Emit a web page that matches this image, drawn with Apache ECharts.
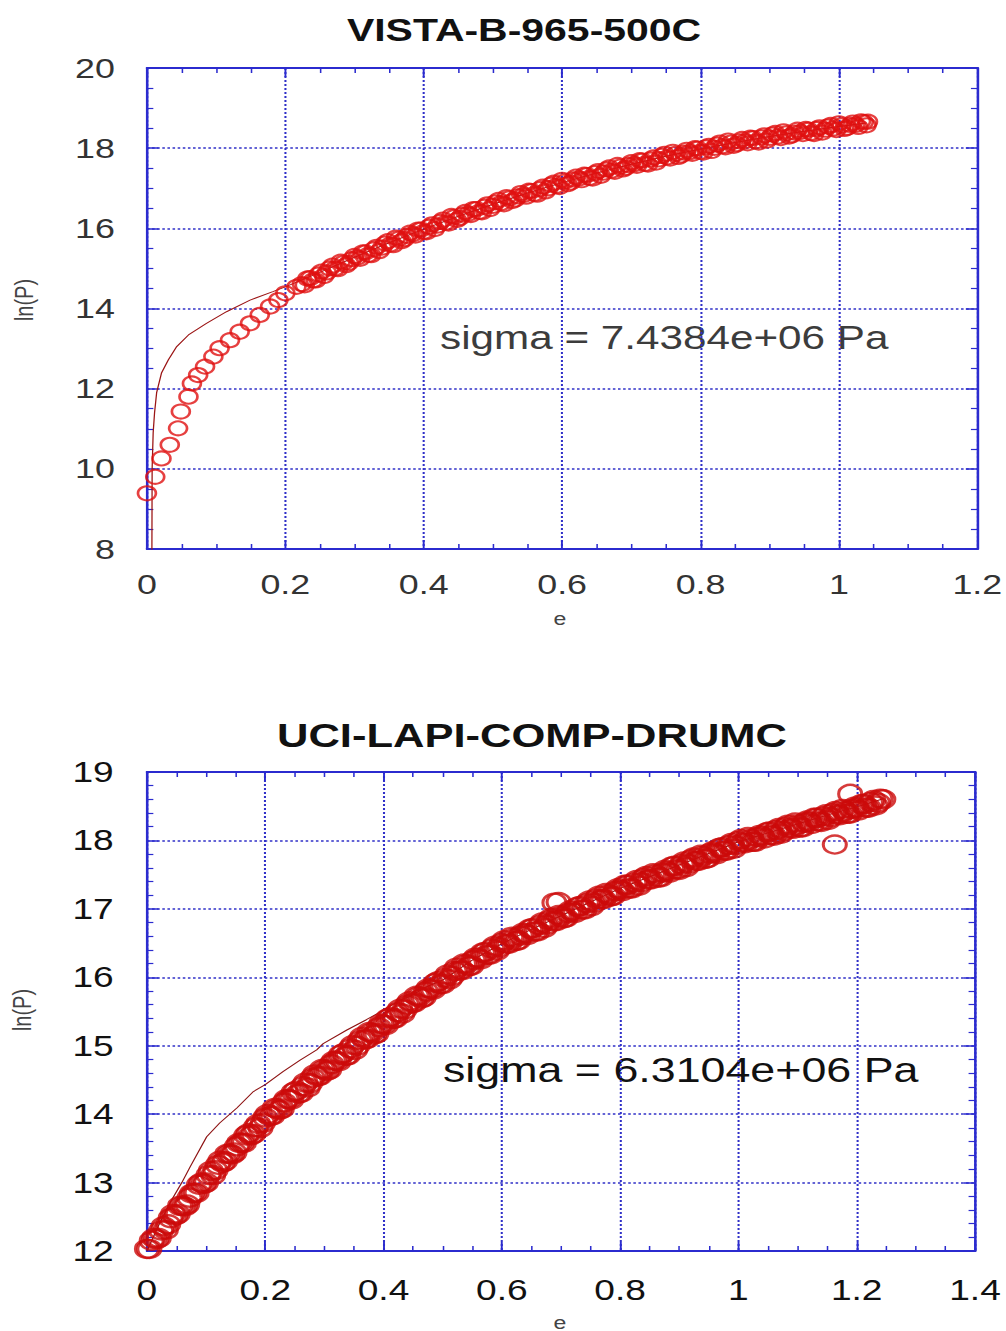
<!DOCTYPE html>
<html>
<head>
<meta charset="utf-8">
<script src="https://cdn.jsdelivr.net/npm/echarts@6/dist/echarts.min.js"></script>
<style>
  html, body { margin: 0; padding: 0; background: #fff; overflow: hidden; }
  /* the plot is laid out narrow and widened by a horizontal stretch */
  #chart { width: 786px; height: 1331px; transform: scaleX(1.28); transform-origin: 0 0; }
</style>
</head>
<body>
<div id="chart"></div>
<script>
// ---------- VISTA-B-965-500C : measured points (strain e, ln P) ----------
const vistaStrain = [
  0.000, 0.012, 0.021, 0.033, 0.045, 0.049, 0.060, 0.065, 0.074, 0.084,
  0.096, 0.105, 0.120, 0.134, 0.149, 0.163, 0.178, 0.190, 0.200, 0.216,
  0.224, 0.232, 0.240, 0.248, 0.256, 0.264, 0.272, 0.280, 0.288, 0.296,
  0.304, 0.312, 0.320, 0.328, 0.336, 0.344, 0.352, 0.360, 0.368, 0.376,
  0.384, 0.392, 0.400, 0.408, 0.416, 0.424, 0.432, 0.440, 0.448, 0.456,
  0.464, 0.472, 0.480, 0.488, 0.496, 0.504, 0.512, 0.520, 0.528, 0.536,
  0.544, 0.552, 0.560, 0.568, 0.576, 0.584, 0.592, 0.600, 0.608, 0.616,
  0.624, 0.632, 0.640, 0.648, 0.656, 0.664, 0.672, 0.680, 0.688, 0.696,
  0.704, 0.712, 0.720, 0.728, 0.736, 0.744, 0.752, 0.760, 0.768, 0.776,
  0.784, 0.792, 0.800, 0.808, 0.816, 0.824, 0.832, 0.840, 0.848, 0.856,
  0.864, 0.872, 0.880, 0.888, 0.896, 0.904, 0.912, 0.920, 0.928, 0.936,
  0.944, 0.952, 0.960, 0.968, 0.976, 0.984, 0.992, 1.000, 1.008, 1.016,
  1.024, 1.032, 1.040, 1.042
];
const vistaLnP = [
  9.39, 9.80, 10.26, 10.60, 11.01, 11.43, 11.80, 12.13, 12.34, 12.55,
  12.80, 13.01, 13.21, 13.42, 13.63, 13.84, 14.05, 14.21, 14.38, 14.54,
  14.61, 14.75, 14.70, 14.85, 14.81, 15.00, 15.00, 15.17, 15.08, 15.23,
  15.27, 15.40, 15.34, 15.48, 15.43, 15.62, 15.60, 15.77, 15.68, 15.81,
  15.85, 15.97, 15.91, 16.04, 15.98, 16.16, 16.14, 16.31, 16.21, 16.34,
  16.36, 16.48, 16.41, 16.54, 16.48, 16.65, 16.63, 16.78, 16.68, 16.80,
  16.83, 16.94, 16.86, 16.98, 16.92, 17.09, 17.06, 17.21, 17.10, 17.22,
  17.24, 17.34, 17.26, 17.38, 17.31, 17.47, 17.44, 17.58, 17.47, 17.58,
  17.60, 17.70, 17.61, 17.72, 17.64, 17.81, 17.77, 17.91, 17.78, 17.89,
  17.90, 18.00, 17.91, 18.02, 17.93, 18.09, 18.05, 18.19, 18.06, 18.17,
  18.17, 18.26, 18.17, 18.27, 18.19, 18.34, 18.29, 18.42, 18.29, 18.39,
  18.40, 18.48, 18.38, 18.48, 18.39, 18.54, 18.49, 18.62, 18.48, 18.58,
  18.58, 18.67, 18.57, 18.66
];
// second set of readings taken between the ones above
const vistaStrainB = [
  0.228, 0.236, 0.244, 0.252, 0.260, 0.268, 0.276, 0.284, 0.292, 0.300,
  0.308, 0.316, 0.324, 0.332, 0.340, 0.348, 0.356, 0.364, 0.372, 0.380,
  0.388, 0.396, 0.404, 0.412, 0.420, 0.428, 0.436, 0.444, 0.452, 0.460,
  0.468, 0.476, 0.484, 0.492, 0.500, 0.508, 0.516, 0.524, 0.532, 0.540,
  0.548, 0.556, 0.564, 0.572, 0.580, 0.588, 0.596, 0.604, 0.612, 0.620,
  0.628, 0.636, 0.644, 0.652, 0.660, 0.668, 0.676, 0.684, 0.692, 0.700,
  0.708, 0.716, 0.724, 0.732, 0.740, 0.748, 0.756, 0.764, 0.772, 0.780,
  0.788, 0.796, 0.804, 0.812, 0.820, 0.828, 0.836, 0.844, 0.852, 0.860,
  0.868, 0.876, 0.884, 0.892, 0.900, 0.908, 0.916, 0.924, 0.932, 0.940,
  0.948, 0.956, 0.964, 0.972, 0.980, 0.988, 0.996, 1.004, 1.012, 1.020,
  1.028, 1.036
];
const vistaLnPB = [
  14.58, 14.76, 14.70, 14.92, 14.90, 15.07, 14.98, 15.14, 15.14, 15.31,
  15.24, 15.40, 15.33, 15.54, 15.52, 15.68, 15.58, 15.74, 15.73, 15.89,
  15.82, 15.97, 15.90, 16.10, 16.07, 16.22, 16.12, 16.28, 16.26, 16.41,
  16.33, 16.48, 16.40, 16.60, 16.56, 16.71, 16.60, 16.75, 16.72, 16.88,
  16.79, 16.93, 16.84, 17.04, 17.00, 17.14, 17.03, 17.17, 17.14, 17.29,
  17.20, 17.33, 17.24, 17.43, 17.39, 17.52, 17.41, 17.54, 17.51, 17.65,
  17.56, 17.69, 17.59, 17.77, 17.72, 17.86, 17.74, 17.86, 17.82, 17.96,
  17.86, 17.99, 17.89, 18.06, 18.01, 18.14, 18.02, 18.14, 18.10, 18.23,
  18.12, 18.25, 18.14, 18.32, 18.26, 18.38, 18.25, 18.37, 18.32, 18.46,
  18.35, 18.46, 18.35, 18.52, 18.46, 18.58, 18.45, 18.57, 18.51, 18.64,
  18.53, 18.65
];
// fitted curve
const vistaFitStrain = [
  0.007, 0.0075, 0.009, 0.011, 0.014, 0.021, 0.031, 0.043, 0.060, 0.086,
  0.115, 0.149, 0.182, 0.200, 0.25, 0.30, 0.35, 0.40, 0.45, 0.50,
  0.55, 0.60, 0.65, 0.70, 0.75, 0.80, 0.85, 0.90, 0.95, 1.00, 1.04
];
const vistaFitLnP = [
  7.00, 10.00, 10.90, 11.40, 11.90, 12.39, 12.72, 13.05, 13.34, 13.63,
  13.92, 14.21, 14.42, 14.54, 14.90, 15.28, 15.64, 15.98, 16.30, 16.60,
  16.88, 17.14, 17.38, 17.60, 17.80, 17.98, 18.14, 18.29, 18.42, 18.54, 18.63
];
const vistaStrainTicks = [0, 0.2, 0.4, 0.6, 0.8, 1, 1.2];
const vistaLnPTicks = [8, 10, 12, 14, 16, 18, 20];
const vistaTitle = 'VISTA-B-965-500C';
const vistaSigma = 'sigma = 7.4384e+06 Pa';

// ---------- UCI-LAPI-COMP-DRUMC : measured points ----------
const drumStrain = [
  0.000, 0.008, 0.016, 0.024, 0.032, 0.040, 0.048, 0.056, 0.064, 0.072,
  0.080, 0.088, 0.096, 0.104, 0.112, 0.120, 0.128, 0.136, 0.144, 0.152,
  0.160, 0.168, 0.176, 0.184, 0.192, 0.200, 0.208, 0.216, 0.224, 0.232,
  0.240, 0.248, 0.256, 0.264, 0.272, 0.280, 0.288, 0.296, 0.304, 0.312,
  0.320, 0.328, 0.336, 0.344, 0.352, 0.360, 0.368, 0.376, 0.384, 0.392,
  0.400, 0.408, 0.416, 0.424, 0.432, 0.440, 0.448, 0.456, 0.464, 0.472,
  0.480, 0.488, 0.496, 0.504, 0.512, 0.520, 0.528, 0.536, 0.544, 0.552,
  0.560, 0.568, 0.576, 0.584, 0.592, 0.600, 0.608, 0.616, 0.624, 0.632,
  0.640, 0.648, 0.656, 0.664, 0.672, 0.680, 0.688, 0.696, 0.704, 0.712,
  0.720, 0.728, 0.736, 0.744, 0.752, 0.760, 0.768, 0.776, 0.784, 0.792,
  0.800, 0.808, 0.816, 0.824, 0.832, 0.840, 0.848, 0.856, 0.864, 0.872,
  0.880, 0.888, 0.896, 0.904, 0.912, 0.920, 0.928, 0.936, 0.944, 0.952,
  0.960, 0.968, 0.976, 0.984, 0.992, 1.000, 1.008, 1.016, 1.024, 1.032,
  1.040, 1.048, 1.056, 1.064, 1.072, 1.080, 1.088, 1.096, 1.104, 1.112,
  1.120, 1.128, 1.136, 1.144, 1.152, 1.160, 1.168, 1.176, 1.184, 1.192,
  1.200, 1.208, 1.216, 1.224, 1.232, 1.240, 1.245,
  0.689, 0.696, 1.163, 1.189
];
const drumLnP = [
  12.03, 12.15, 12.17, 12.30, 12.31, 12.48, 12.52, 12.66, 12.65, 12.78,
  12.85, 12.97, 12.98, 13.11, 13.11, 13.26, 13.29, 13.42, 13.41, 13.53,
  13.58, 13.69, 13.69, 13.81, 13.80, 13.95, 13.97, 14.09, 14.06, 14.17,
  14.22, 14.32, 14.30, 14.41, 14.39, 14.53, 14.55, 14.66, 14.63, 14.73,
  14.78, 14.87, 14.85, 14.96, 14.94, 15.08, 15.09, 15.20, 15.16, 15.27,
  15.31, 15.40, 15.39, 15.49, 15.47, 15.60, 15.62, 15.73, 15.69, 15.79,
  15.83, 15.92, 15.90, 15.99, 15.97, 16.09, 16.10, 16.20, 16.16, 16.25,
  16.28, 16.36, 16.33, 16.42, 16.39, 16.50, 16.49, 16.59, 16.53, 16.61,
  16.64, 16.71, 16.67, 16.76, 16.72, 16.83, 16.82, 16.91, 16.86, 16.94,
  16.96, 17.03, 16.99, 17.08, 17.04, 17.15, 17.14, 17.23, 17.18, 17.26,
  17.28, 17.35, 17.30, 17.38, 17.34, 17.45, 17.43, 17.52, 17.46, 17.53,
  17.55, 17.62, 17.58, 17.65, 17.61, 17.72, 17.70, 17.79, 17.73, 17.81,
  17.82, 17.89, 17.85, 17.93, 17.88, 17.99, 17.97, 18.05, 17.98, 18.05,
  18.06, 18.12, 18.08, 18.15, 18.10, 18.20, 18.18, 18.26, 18.19, 18.26,
  18.27, 18.33, 18.28, 18.35, 18.30, 18.40, 18.38, 18.46, 18.39, 18.46,
  18.47, 18.53, 18.48, 18.56, 18.51, 18.61, 18.60,
  17.09, 17.10, 17.94, 18.68
];
// second set of readings taken between the ones above
const drumStrainB = [
  0.004, 0.012, 0.020, 0.028, 0.036, 0.044, 0.052, 0.060, 0.068, 0.076,
  0.084, 0.092, 0.100, 0.108, 0.116, 0.124, 0.132, 0.140, 0.148, 0.156,
  0.164, 0.172, 0.180, 0.188, 0.196, 0.204, 0.212, 0.220, 0.228, 0.236,
  0.244, 0.252, 0.260, 0.268, 0.276, 0.284, 0.292, 0.300, 0.308, 0.316,
  0.324, 0.332, 0.340, 0.348, 0.356, 0.364, 0.372, 0.380, 0.388, 0.396,
  0.404, 0.412, 0.420, 0.428, 0.436, 0.444, 0.452, 0.460, 0.468, 0.476,
  0.484, 0.492, 0.500, 0.508, 0.516, 0.524, 0.532, 0.540, 0.548, 0.556,
  0.564, 0.572, 0.580, 0.588, 0.596, 0.604, 0.612, 0.620, 0.628, 0.636,
  0.644, 0.652, 0.660, 0.668, 0.676, 0.684, 0.692, 0.700, 0.708, 0.716,
  0.724, 0.732, 0.740, 0.748, 0.756, 0.764, 0.772, 0.780, 0.788, 0.796,
  0.804, 0.812, 0.820, 0.828, 0.836, 0.844, 0.852, 0.860, 0.868, 0.876,
  0.884, 0.892, 0.900, 0.908, 0.916, 0.924, 0.932, 0.940, 0.948, 0.956,
  0.964, 0.972, 0.980, 0.988, 0.996, 1.004, 1.012, 1.020, 1.028, 1.036,
  1.044, 1.052, 1.060, 1.068, 1.076, 1.084, 1.092, 1.100, 1.108, 1.116,
  1.124, 1.132, 1.140, 1.148, 1.156, 1.164, 1.172, 1.180, 1.188, 1.196,
  1.204, 1.212, 1.220, 1.228, 1.236
];
const drumLnPB = [
  12.03, 12.19, 12.19, 12.36, 12.39, 12.54, 12.54, 12.66, 12.68, 12.84,
  12.85, 13.00, 13.00, 13.17, 13.18, 13.32, 13.31, 13.42, 13.44, 13.58,
  13.58, 13.72, 13.71, 13.86, 13.87, 14.00, 13.98, 14.08, 14.08, 14.22,
  14.21, 14.34, 14.31, 14.46, 14.45, 14.58, 14.56, 14.65, 14.65, 14.78,
  14.77, 14.89, 14.86, 15.01, 15.00, 15.13, 15.10, 15.19, 15.18, 15.32,
  15.30, 15.42, 15.40, 15.54, 15.53, 15.65, 15.63, 15.72, 15.71, 15.84,
  15.82, 15.94, 15.90, 16.04, 16.02, 16.14, 16.10, 16.19, 16.17, 16.29,
  16.26, 16.37, 16.33, 16.46, 16.44, 16.54, 16.49, 16.57, 16.54, 16.65,
  16.62, 16.72, 16.67, 16.80, 16.77, 16.87, 16.82, 16.89, 16.87, 16.98,
  16.94, 17.04, 16.99, 17.12, 17.09, 17.19, 17.14, 17.21, 17.19, 17.30,
  17.26, 17.35, 17.30, 17.42, 17.39, 17.48, 17.43, 17.50, 17.46, 17.57,
  17.53, 17.63, 17.57, 17.69, 17.66, 17.75, 17.70, 17.77, 17.74, 17.84,
  17.80, 17.90, 17.85, 17.96, 17.93, 18.02, 17.96, 18.02, 17.98, 18.08,
  18.03, 18.13, 18.07, 18.18, 18.14, 18.23, 18.17, 18.23, 18.19, 18.29,
  18.24, 18.33, 18.27, 18.38, 18.34, 18.43, 18.37, 18.43, 18.39, 18.49,
  18.44, 18.53, 18.48, 18.59, 18.55
];
// fitted curve
const drumFitStrain = [
  0.000, 0.020, 0.040, 0.059, 0.073, 0.101, 0.123, 0.152, 0.180, 0.200,
  0.230, 0.259, 0.287, 0.298, 0.338, 0.371, 0.400, 0.428, 0.445, 0.470,
  0.500, 0.55, 0.60, 0.65, 0.70, 0.75, 0.80, 0.85, 0.90, 0.95,
  1.00, 1.05, 1.10, 1.15, 1.20, 1.245
];
const drumFitLnP = [
  12.00, 12.38, 12.72, 13.00, 13.23, 13.67, 13.87, 14.09, 14.33, 14.43,
  14.62, 14.79, 14.94, 15.03, 15.23, 15.38, 15.52, 15.67, 15.72, 15.85,
  15.96, 16.25, 16.49, 16.70, 16.90, 17.10, 17.30, 17.47, 17.64, 17.81,
  17.98, 18.11, 18.24, 18.37, 18.49, 18.61
];
const drumStrainTicks = [0, 0.2, 0.4, 0.6, 0.8, 1, 1.2, 1.4];
const drumLnPTicks = [12, 13, 14, 15, 16, 17, 18, 19];
const drumTitle = 'UCI-LAPI-COMP-DRUMC';
const drumSigma = 'sigma = 6.3104e+06 Pa';

const axisTitleX = 'e';
const axisTitleY = 'ln(P)';

// ---------- styling ----------
const AXIS_BLUE = '#2b2bcf';
const GRID_BLUE = '#3030c8';
const FONT = '"Liberation Sans", Arial, Helvetica, sans-serif';
const zip = (xs, ys) => xs.map((x, i) => [x, ys[i]]);

function axisPair(dim, gridIndex, ticks, minorSplit, label) {
  const base = {
    type: 'value',
    gridIndex,
    min: ticks[0],
    max: ticks[ticks.length - 1],
    interval: ticks[1] - ticks[0],
    axisLine: { show: true, onZero: false, lineStyle: { color: AXIS_BLUE, width: 2 } },
    axisTick: { show: true, inside: true, length: 9, lineStyle: { color: AXIS_BLUE, width: 1.5 } },
    minorTick: { show: true, splitNumber: minorSplit, length: 5, lineStyle: { color: AXIS_BLUE, width: 1.2 } },
    minorSplitLine: { show: false }
  };
  const main = Object.assign({}, base, {
    position: dim === 'x' ? 'bottom' : 'left',
    axisLabel: label,
    splitLine: { show: true, lineStyle: { color: GRID_BLUE, width: 1.6, type: [2, 2] } }
  });
  const mirror = Object.assign({}, base, {
    position: dim === 'x' ? 'top' : 'right',
    axisLabel: { show: false },
    splitLine: { show: false }
  });
  return [main, mirror];
}

const topLabelX = { margin: 21, fontSize: 28, color: '#333', fontFamily: FONT };
const topLabelY = { margin: 25, fontSize: 28, color: '#333', fontFamily: FONT, padding: [0, 0, 6, 0] };
const botLabelX = { margin: 24, fontSize: 29, color: '#111', fontFamily: FONT };
const botLabelY = { margin: 26, fontSize: 29, color: '#111', fontFamily: FONT, padding: [0, 0, 8, 0] };

const ringStyle = (color, w) => ({ color: 'rgba(255,255,255,0)', borderColor: color, borderWidth: w });

const option = {
  animation: false,
  backgroundColor: '#ffffff',
  grid: [
    { left: 114.8, right: 21.9, top: 68, height: 481 },
    { left: 114.8, right: 24.3, top: 772, height: 479 }
  ],
  xAxis: [
    ...axisPair('x', 0, vistaStrainTicks, 4, topLabelX),
    ...axisPair('x', 1, drumStrainTicks, 4, botLabelX)
  ],
  yAxis: [
    ...axisPair('y', 0, vistaLnPTicks, 4, topLabelY),
    ...axisPair('y', 1, drumLnPTicks, 5, botLabelY)
  ],
  series: [
    {
      type: 'line', xAxisIndex: 0, yAxisIndex: 0, data: zip(vistaFitStrain, vistaFitLnP),
      showSymbol: false, clip: true, z: 2,
      lineStyle: { color: '#9b1515', width: 1 }
    },
    {
      type: 'scatter', xAxisIndex: 0, yAxisIndex: 0,
      data: zip(vistaStrain, vistaLnP).concat(zip(vistaStrainB, vistaLnPB)),
      symbol: 'circle', symbolSize: 14, clip: false, z: 3,
      itemStyle: ringStyle('#e01010', 2.1)
    },
    {
      type: 'line', xAxisIndex: 2, yAxisIndex: 2, data: zip(drumFitStrain, drumFitLnP),
      showSymbol: false, clip: true, z: 2,
      lineStyle: { color: '#8e1414', width: 1 }
    },
    {
      type: 'scatter', xAxisIndex: 2, yAxisIndex: 2,
      data: zip(drumStrain, drumLnP).concat(zip(drumStrainB, drumLnPB)),
      symbol: 'circle', symbolSize: 18, clip: false, z: 3,
      itemStyle: ringStyle('#cc0a0a', 2.4)
    }
  ],
  graphic: [
    { type: 'text', x: 409.4, y: 30, style: { text: vistaTitle, font: 'bold 32px ' + FONT, fill: '#111', align: 'center', verticalAlign: 'middle', textAlign: 'center', textVerticalAlign: 'middle' } },
    { type: 'text', x: 415.6, y: 735, style: { text: drumTitle, font: 'bold 34px ' + FONT, fill: '#111', align: 'center', verticalAlign: 'middle', textAlign: 'center', textVerticalAlign: 'middle' } },
    { type: 'text', x: 343.8, y: 338, style: { text: vistaSigma, font: '33px ' + FONT, fill: '#3c3c3c', align: 'left', verticalAlign: 'middle', textAlign: 'left', textVerticalAlign: 'middle' } },
    { type: 'text', x: 346, y: 1070, style: { text: drumSigma, font: '35px ' + FONT, fill: '#111', align: 'left', verticalAlign: 'middle', textAlign: 'left', textVerticalAlign: 'middle' } },
    { type: 'text', x: 18.8, y: 300, rotation: Math.PI / 2, style: { text: axisTitleY, font: '20px ' + FONT, fill: '#444', align: 'center', verticalAlign: 'middle', textAlign: 'center', textVerticalAlign: 'middle' } },
    { type: 'text', x: 17.2, y: 1010, rotation: Math.PI / 2, style: { text: axisTitleY, font: '20px ' + FONT, fill: '#444', align: 'center', verticalAlign: 'middle', textAlign: 'center', textVerticalAlign: 'middle' } },
    { type: 'text', x: 437.5, y: 618, style: { text: axisTitleX, font: '18px ' + FONT, fill: '#444', align: 'center', verticalAlign: 'middle', textAlign: 'center', textVerticalAlign: 'middle' } },
    { type: 'text', x: 437.5, y: 1322, style: { text: axisTitleX, font: '18px ' + FONT, fill: '#444', align: 'center', verticalAlign: 'middle', textAlign: 'center', textVerticalAlign: 'middle' } }
  ]
};

const chart = echarts.init(document.getElementById('chart'), null, { renderer: 'svg' });
chart.setOption(option);
</script>
</body>
</html>
